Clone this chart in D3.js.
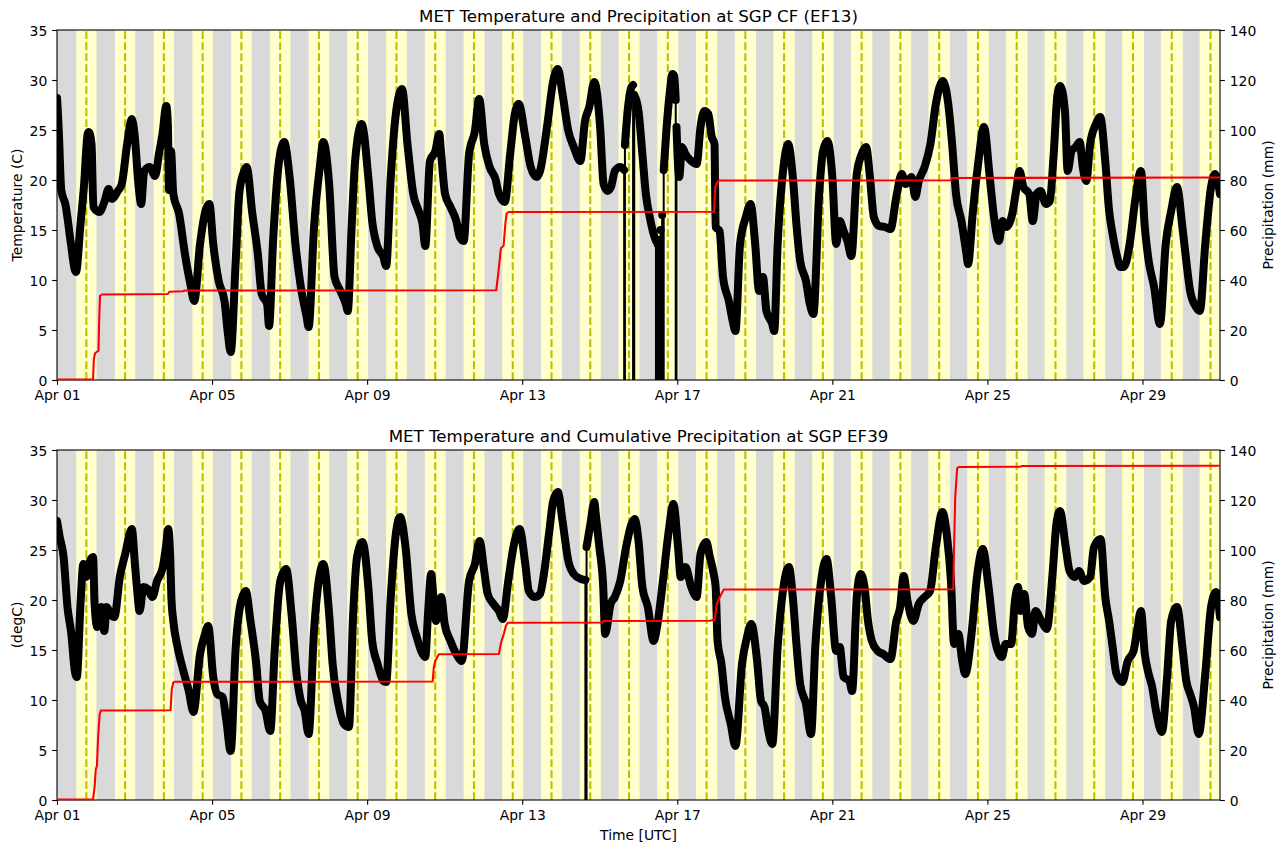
<!DOCTYPE html>
<html><head><meta charset="utf-8">
<script src="https://cdn.jsdelivr.net/npm/d3@7"></script>
<style>
body{margin:0;background:#fff;}
text{font-family:"DejaVu Sans",sans-serif;fill:#000;}
</style>
</head><body>
<svg id="c" width="1285" height="853"></svg>
<script>
const M = -9999; // missing value marker in the data stream

const xTickDays = [0, 4, 8, 12, 16, 20, 24, 28];
const xTickLabels = ["Apr 01","Apr 05","Apr 09","Apr 13","Apr 17","Apr 21","Apr 25","Apr 29"];
const tempTicks = [0, 5, 10, 15, 20, 25, 30, 35];
const precipTicks = [0, 20, 40, 60, 80, 100, 120, 140];

// sunrise / sunset / solar noon, UTC hours from the start of each day (Apr 1 .. Apr 30)
const sunriseHour = [11.88,11.86,11.84,11.82,11.81,11.79,11.77,11.75,11.73,11.71,11.70,11.68,11.66,11.64,11.62,
                     11.61,11.59,11.57,11.55,11.53,11.52,11.50,11.48,11.46,11.44,11.42,11.41,11.39,11.37,11.35];
const sunsetHour  = [24.43,24.45,24.46,24.48,24.50,24.52,24.54,24.55,24.57,24.59,24.61,24.63,24.64,24.66,24.68,
                     24.70,24.72,24.74,24.75,24.77,24.79,24.81,24.83,24.84,24.86,24.88,24.90,24.92,24.93,24.95];
const noonHour    = [18.16,18.16,18.16,18.16,18.16,18.16,18.16,18.15,18.15,18.15,18.15,18.15,18.15,18.15,18.15,
                     18.15,18.14,18.14,18.14,18.14,18.14,18.14,18.14,18.14,18.14,18.13,18.13,18.13,18.13,18.13];

// [day since Apr 1 00 UTC, temperature C]
const ef13Temp = [[0.00,28.2],[0.02,27.0],[0.05,24.5],[0.11,19.0],[0.22,17.5],[0.36,13.6],[0.46,11.0],[0.49,10.8],[0.60,15.3],[0.70,19.6],[0.79,24.6],[0.82,24.8],[0.89,23.6],[0.94,17.3],[1.09,16.8],[1.23,17.9],[1.33,19.1],[1.42,18.1],[1.57,18.9],[1.67,19.6],[1.81,23.6],[1.93,26.1],[2.00,24.6],[2.10,19.6],[2.17,17.6],[2.25,20.9],[2.39,21.3],[2.53,20.4],[2.63,22.6],[2.72,24.6],[2.82,27.4],[2.86,25.5],[2.89,19.0],[2.94,22.9],[3.00,18.6],[3.15,16.6],[3.30,12.6],[3.44,9.6],[3.54,7.9],[3.69,13.6],[3.83,16.9],[3.93,17.6],[4.03,13.6],[4.17,9.9],[4.32,7.9],[4.41,4.6],[4.48,2.8],[4.61,11.9],[4.70,18.6],[4.80,20.6],[4.89,21.3],[5.04,16.6],[5.18,12.6],[5.28,8.6],[5.42,7.6],[5.47,5.4],[5.57,13.6],[5.71,21.3],[5.86,23.8],[6.00,20.3],[6.15,13.6],[6.29,9.3],[6.44,6.3],[6.49,5.3],[6.63,15.3],[6.78,21.3],[6.87,23.8],[7.02,19.6],[7.16,10.3],[7.31,8.9],[7.45,7.6],[7.50,6.9],[7.60,15.3],[7.69,21.9],[7.86,25.6],[8.03,20.3],[8.13,15.9],[8.27,13.3],[8.42,12.3],[8.49,11.4],[8.61,20.3],[8.75,26.9],[8.90,29.1],[9.04,23.6],[9.19,18.6],[9.33,16.9],[9.43,15.6],[9.50,13.4],[9.62,21.9],[9.76,22.9],[9.86,24.6],[9.91,22.6],[10.01,18.6],[10.15,17.3],[10.30,15.9],[10.39,14.3],[10.49,13.9],[10.63,22.6],[10.78,24.9],[10.89,28.1],[11.02,23.6],[11.16,21.3],[11.31,20.1],[11.40,18.6],[11.55,17.8],[11.69,22.6],[11.81,26.6],[11.91,27.6],[12.08,24.3],[12.22,21.3],[12.37,20.3],[12.46,20.9],[12.65,25.6],[12.80,29.9],[12.92,31.1],[13.04,28.6],[13.19,24.9],[13.33,23.3],[13.50,21.9],[13.62,25.9],[13.73,27.3],[13.86,29.8],[14.01,25.3],[14.10,19.6],[14.20,18.9],[14.29,19.3],[14.39,20.9],[14.53,21.3],[14.63,21.0],[14.64,M],[14.65,23.5],[14.72,26.9],[14.80,29.1],[14.86,29.5],[14.88,M],[14.89,28.5],[15.00,26.9],[15.10,22.6],[15.19,18.6],[15.29,16.3],[15.39,14.6],[15.45,13.9],[15.47,M],[15.49,13.6],[15.51,M],[15.53,14.0],[15.55,M],[15.57,15.0],[15.59,M],[15.61,16.5],[15.63,M],[15.65,21.0],[15.72,25.0],[15.80,28.5],[15.88,30.6],[15.92,30.4],[15.96,28.0],[15.97,M],[15.98,25.3],[16.05,20.3],[16.12,23.3],[16.21,22.6],[16.36,21.9],[16.50,21.6],[16.60,25.3],[16.70,26.9],[16.80,26.6],[16.89,24.3],[16.96,23.6],[16.99,15.3],[17.09,14.9],[17.18,10.3],[17.33,7.9],[17.43,5.9],[17.50,4.9],[17.62,13.6],[17.77,16.3],[17.89,17.6],[18.01,13.6],[18.11,8.9],[18.21,10.3],[18.30,6.9],[18.45,5.6],[18.50,4.9],[18.59,13.6],[18.74,21.3],[18.86,23.6],[18.98,20.3],[19.08,15.3],[19.17,11.9],[19.32,9.9],[19.42,7.6],[19.51,6.6],[19.66,18.6],[19.76,22.9],[19.87,23.9],[20.00,20.3],[20.10,13.6],[20.19,15.9],[20.29,14.9],[20.39,13.9],[20.49,12.4],[20.63,20.6],[20.73,22.3],[20.87,23.3],[20.97,20.3],[21.07,16.3],[21.21,15.4],[21.36,15.3],[21.50,15.1],[21.65,18.3],[21.79,20.6],[21.89,19.6],[22.04,20.3],[22.14,18.3],[22.23,19.9],[22.38,21.3],[22.53,23.6],[22.67,27.6],[22.85,29.9],[22.99,27.6],[23.09,23.6],[23.19,18.6],[23.33,15.9],[23.46,12.6],[23.50,11.6],[23.62,16.6],[23.77,21.9],[23.91,25.3],[24.06,20.3],[24.17,16.3],[24.30,13.9],[24.39,15.9],[24.49,15.3],[24.64,16.6],[24.74,18.9],[24.83,20.9],[24.93,19.3],[25.08,18.6],[25.17,15.9],[25.27,18.6],[25.37,18.9],[25.51,17.6],[25.61,17.9],[25.71,22.6],[25.81,28.6],[25.88,29.4],[26.00,26.9],[26.07,20.9],[26.17,22.9],[26.28,23.3],[26.38,23.8],[26.46,21.3],[26.55,19.9],[26.65,23.6],[26.80,25.6],[26.91,26.3],[27.04,21.9],[27.14,16.9],[27.23,14.6],[27.33,12.6],[27.43,11.3],[27.52,11.3],[27.67,13.6],[27.81,17.9],[27.96,20.9],[28.06,15.3],[28.16,11.9],[28.30,9.3],[28.45,5.6],[28.60,13.6],[28.74,16.9],[28.89,19.3],[29.03,15.3],[29.13,11.9],[29.23,8.9],[29.38,7.3],[29.48,6.9],[29.62,13.6],[29.77,19.3],[29.87,20.6],[30.00,18.6]];

// [day, cumulative precipitation mm]
const ef13Precip = [[0,0],[0.93,0],[0.95,8],[0.98,10.5],[1.04,11.2],[1.07,11.5],[1.09,25],[1.11,33.5],[1.16,34.0],[2.86,34.2],[2.90,35.1],[3.25,35.3],[3.30,35.6],[11.33,35.7],[11.38,42],[11.45,52.5],[11.52,53.5],[11.57,63],[11.60,66.5],[11.65,67],[16.95,67.1],[16.98,77],[17.02,78.5],[17.08,79.6],[23.05,79.7],[23.08,80.6],[30,80.8]];

const ef39Temp = [[0.00,27.9],[0.07,26.3],[0.17,24.3],[0.27,19.3],[0.37,16.6],[0.46,12.9],[0.51,12.3],[0.61,19.9],[0.68,23.6],[0.75,22.3],[0.85,23.9],[0.93,24.3],[0.97,19.6],[1.04,17.3],[1.14,19.3],[1.22,16.9],[1.28,19.3],[1.38,18.6],[1.48,18.3],[1.62,22.3],[1.76,24.6],[1.93,27.1],[2.01,23.6],[2.07,20.9],[2.13,18.9],[2.23,21.3],[2.34,21.1],[2.46,20.3],[2.58,21.9],[2.73,23.3],[2.81,25.3],[2.87,27.1],[2.92,24.3],[2.95,20.3],[3.00,17.9],[3.11,15.3],[3.26,12.9],[3.40,10.9],[3.52,8.8],[3.69,14.6],[3.82,16.6],[3.90,17.4],[4.03,12.3],[4.13,10.6],[4.27,10.3],[4.37,7.9],[4.48,4.9],[4.61,15.3],[4.75,19.9],[4.87,20.9],[4.99,17.9],[5.14,13.6],[5.23,9.9],[5.38,8.9],[5.50,6.9],[5.62,15.3],[5.76,21.9],[5.91,23.1],[6.05,18.6],[6.18,12.6],[6.29,9.9],[6.39,8.9],[6.49,6.6],[6.63,16.9],[6.78,22.6],[6.87,23.6],[7.02,18.6],[7.11,13.6],[7.26,9.6],[7.40,7.6],[7.53,7.3],[7.64,18.6],[7.74,24.3],[7.88,25.8],[8.03,21.3],[8.13,15.9],[8.27,13.6],[8.42,11.9],[8.49,11.8],[8.61,20.3],[8.75,26.9],[8.85,28.3],[8.99,25.3],[9.14,18.6],[9.28,16.3],[9.43,14.6],[9.50,14.3],[9.57,18.6],[9.65,22.6],[9.71,20.3],[9.78,17.9],[9.91,20.3],[10.00,17.6],[10.15,15.9],[10.30,14.6],[10.44,13.9],[10.63,21.9],[10.78,23.6],[10.90,25.9],[11.02,22.9],[11.11,20.6],[11.26,19.6],[11.40,18.9],[11.50,18.1],[11.64,21.9],[11.79,25.6],[11.93,27.1],[12.08,23.6],[12.17,20.9],[12.32,20.3],[12.46,20.6],[12.56,22.6],[12.70,26.9],[12.80,29.9],[12.92,30.8],[13.04,27.9],[13.19,23.9],[13.33,22.6],[13.52,22.1],[13.63,22.0],[13.65,M],[13.66,25.3],[13.76,27.6],[13.86,29.8],[13.90,28.5],[13.99,25.3],[14.09,21.3],[14.14,16.6],[14.28,19.6],[14.39,20.3],[14.53,21.9],[14.68,25.3],[14.82,27.6],[14.90,28.1],[15.00,25.9],[15.10,21.3],[15.24,19.3],[15.39,15.9],[15.49,17.6],[15.63,21.9],[15.78,26.9],[15.90,29.6],[16.02,25.3],[16.09,22.3],[16.21,23.3],[16.36,21.3],[16.50,20.3],[16.60,24.6],[16.75,25.8],[16.84,24.3],[16.94,22.6],[16.99,21.3],[17.04,15.9],[17.14,13.6],[17.23,10.3],[17.38,7.6],[17.50,5.4],[17.67,13.6],[17.80,16.3],[17.91,17.6],[18.06,13.9],[18.16,9.9],[18.25,9.3],[18.35,6.9],[18.45,5.6],[18.59,15.3],[18.74,21.3],[18.88,23.3],[18.98,20.3],[19.08,15.3],[19.17,11.6],[19.32,9.6],[19.45,6.6],[19.56,15.3],[19.71,21.9],[19.85,24.1],[19.97,20.3],[20.10,14.9],[20.19,15.3],[20.29,12.3],[20.44,11.9],[20.51,10.9],[20.63,20.3],[20.73,22.6],[20.83,21.3],[20.92,17.9],[21.02,15.9],[21.17,14.9],[21.31,14.6],[21.50,14.1],[21.65,17.9],[21.75,19.3],[21.84,22.4],[21.94,19.9],[22.09,17.9],[22.23,19.6],[22.38,20.3],[22.52,20.9],[22.67,25.3],[22.84,28.8],[22.96,26.3],[23.06,21.9],[23.14,15.6],[23.25,16.6],[23.35,13.9],[23.43,12.6],[23.59,16.6],[23.74,22.6],[23.88,25.1],[24.03,21.3],[24.17,16.6],[24.27,14.9],[24.37,14.3],[24.47,15.6],[24.61,15.6],[24.71,19.9],[24.79,21.3],[24.86,18.9],[24.95,20.6],[25.05,17.3],[25.15,16.6],[25.24,18.9],[25.39,17.9],[25.53,17.1],[25.68,22.6],[25.78,27.6],[25.87,28.9],[26.02,25.3],[26.12,22.9],[26.26,22.3],[26.36,22.9],[26.50,21.9],[26.65,22.3],[26.75,25.3],[26.92,26.1],[27.04,20.3],[27.14,17.9],[27.23,15.3],[27.33,12.6],[27.48,11.8],[27.62,13.9],[27.77,14.9],[27.86,16.9],[27.96,18.9],[28.06,14.6],[28.16,12.6],[28.25,11.3],[28.35,8.9],[28.50,6.8],[28.64,12.6],[28.74,17.9],[28.89,19.3],[29.03,15.3],[29.13,11.9],[29.23,10.6],[29.33,9.3],[29.45,6.6],[29.62,12.6],[29.77,19.3],[29.90,20.8],[30.00,18.3]];

const ef39Precip = [[0,0],[0.93,0],[0.97,5],[1.00,12],[1.03,13.5],[1.06,25],[1.10,34],[1.13,35.6],[2.93,35.7],[2.96,44],[3.00,46.8],[3.03,47.1],[9.69,47.2],[9.72,53],[9.76,55.5],[9.85,58.1],[11.40,58.2],[11.45,62.4],[11.53,66.5],[11.58,69.5],[11.63,70.7],[14.07,70.8],[14.10,71.4],[16.84,71.5],[16.97,72.0],[17.02,78.4],[17.12,81.7],[17.20,84.0],[23.12,84.1],[23.14,101],[23.17,121],[23.22,132.5],[23.26,133.0],[24.85,133.1],[24.88,133.4],[30,133.5]];

const panels = [
  {title:"MET Temperature and Precipitation at SGP CF (EF13)", ylabel:"Temperature (C)", temp:ef13Temp, precip:ef13Precip, top:30},
  {title:"MET Temperature and Cumulative Precipitation at SGP EF39", ylabel:"(degC)", temp:ef39Temp, precip:ef39Precip, top:450}
];

const L = 57, R = 1220, PH = 350;
const FS = 13.9;
const svg = d3.select("#c");
const x = d3.scaleLinear().domain([0, 30]).range([L, R]);
const defs = svg.append("defs");

panels.forEach((p, i) => {
  const top = p.top, bot = top + PH;
  const yT = d3.scaleLinear().domain([0, 35]).range([bot, top]);
  const yP = d3.scaleLinear().domain([0, 140]).range([bot, top]);
  const clipId = "clip" + i;
  defs.append("clipPath").attr("id", clipId)
    .append("rect").attr("x", L).attr("y", top).attr("width", R - L).attr("height", PH);
  defs.append("clipPath").attr("id", clipId + "p")
    .append("rect").attr("x", L).attr("y", top).attr("width", R - L).attr("height", PH + 0.6);

  const plot = svg.append("g").attr("clip-path", `url(#${clipId})`);
  // night background
  plot.append("rect").attr("x", L).attr("y", top).attr("width", R - L).attr("height", PH).attr("fill", "#d9d9d9");
  // daytime bands
  const days = d3.range(sunriseHour.length);
  plot.selectAll("rect.day").data(days).join("rect").attr("class", "day")
    .attr("x", d => x(d + sunriseHour[d] / 24))
    .attr("width", d => x(d + sunsetHour[d] / 24) - x(d + sunriseHour[d] / 24))
    .attr("y", top).attr("height", PH).attr("fill", "#ffffcc");
  // solar noon lines
  plot.selectAll("line.noon").data(days).join("line").attr("class", "noon")
    .attr("x1", d => x(d + noonHour[d] / 24)).attr("x2", d => x(d + noonHour[d] / 24))
    .attr("y1", bot).attr("y2", top)
    .attr("stroke", "#bfbf00").attr("stroke-width", 2.08).attr("stroke-dasharray", "7.7,3.3");

  // temperature: connecting line (includes missing values) + marker band
  const thin = d3.line().x(d => x(d[0])).y(d => yT(d[1]));
  plot.append("path").attr("d", thin(p.temp)).attr("fill", "none")
    .attr("stroke", "#000").attr("stroke-width", 2);
  const thick = d3.line().defined(d => d[1] > -100).x(d => x(d[0])).y(d => yT(d[1])).curve(d3.curveMonotoneX);
  plot.append("path").attr("d", thick(p.temp)).attr("fill", "none")
    .attr("stroke", "#000").attr("stroke-width", 8)
    .attr("stroke-linejoin", "round").attr("stroke-linecap", "round");

  // axes
  const styleAxis = g => {
    g.select(".domain").remove();
    g.selectAll(".tick line").attr("stroke", "#000").attr("stroke-width", 1.1);
    g.selectAll("text").attr("font-family", "DejaVu Sans").attr("font-size", FS).attr("fill", "#000");
  };
  const xa = svg.append("g").attr("transform", `translate(0,${bot})`)
    .call(d3.axisBottom(x).tickValues(xTickDays).tickFormat((d, k) => xTickLabels[k])
      .tickSize(4.86).tickPadding(4.86).tickSizeOuter(0));
  styleAxis(xa);
  xa.selectAll("text").attr("dy", "0.76em");

  const ya = svg.append("g").attr("transform", `translate(${L},0)`)
    .call(d3.axisLeft(yT).tickValues(tempTicks).tickFormat(d3.format("d"))
      .tickSize(4.86).tickPadding(4.86).tickSizeOuter(0));
  styleAxis(ya);
  ya.selectAll("text").attr("dy", "0.36em");

  const ra = svg.append("g").attr("transform", `translate(${R},0)`)
    .call(d3.axisRight(yP).tickValues(precipTicks).tickFormat(d3.format("d"))
      .tickSize(4.86).tickPadding(4.86).tickSizeOuter(0));
  styleAxis(ra);
  ra.selectAll("text").attr("dy", "0.36em");

  // frame
  svg.append("rect").attr("x", L).attr("y", top).attr("width", R - L).attr("height", PH)
    .attr("fill", "none").attr("stroke", "#000").attr("stroke-width", 1.1);

  // precipitation (twin axis, drawn on top)
  const pl = d3.line().x(d => x(d[0])).y(d => yP(d[1]) - 0.5);
  svg.append("g").attr("clip-path", `url(#${clipId}p)`)
    .append("path").attr("d", pl(p.precip)).attr("fill", "none")
    .attr("stroke", "#ff0000").attr("stroke-width", 2.08).attr("stroke-linejoin", "round");

  // title and labels
  svg.append("text").attr("x", (L + R) / 2).attr("y", top - 8.3).attr("text-anchor", "middle")
    .attr("font-size", 16.67).text(p.title);
  svg.append("text").attr("transform", `translate(22,${(top + bot) / 2}) rotate(-90)`)
    .attr("text-anchor", "middle").attr("font-size", FS).text(p.ylabel);
  svg.append("text").attr("transform", `translate(1273,${(top + bot) / 2}) rotate(-90)`)
    .attr("text-anchor", "middle").attr("font-size", FS).text("Precipitation (mm)");
});

svg.append("text").attr("x", (L + R) / 2).attr("y", 840).attr("text-anchor", "middle")
  .attr("font-size", FS).text("Time [UTC]");
</script>
</body></html>
